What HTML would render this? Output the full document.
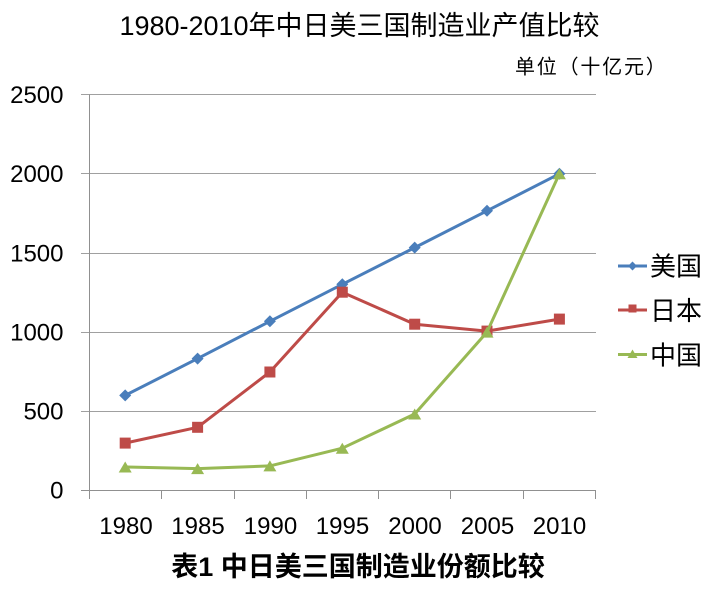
<!DOCTYPE html>
<html>
<head>
<meta charset="utf-8">
<style>
html,body{margin:0;padding:0;background:#fff;}
svg{display:block;}
text{font-family:"Liberation Sans","Noto Sans CJK SC",sans-serif;fill:#000;}
</style>
</head>
<body>
<svg width="720" height="598" viewBox="0 0 720 598" xmlns="http://www.w3.org/2000/svg">
  <rect width="720" height="598" fill="#fff"/>
  <!-- title -->
  <text x="359.5" y="35" font-size="27" text-anchor="middle">1980-2010年中日美三国制造业产值比较</text>
  <text x="515" y="73.5" font-size="20" letter-spacing="1.8">单位（十亿元）</text>

  <!-- gridlines -->
  <g stroke="#a0a0a0" stroke-width="1" shape-rendering="crispEdges">
    <line x1="81" y1="94.5" x2="596" y2="94.5"/>
    <line x1="81" y1="173.5" x2="596" y2="173.5"/>
    <line x1="81" y1="253.5" x2="596" y2="253.5"/>
    <line x1="81" y1="332.5" x2="596" y2="332.5"/>
    <line x1="81" y1="411.5" x2="596" y2="411.5"/>
  </g>
  <!-- axes -->
  <g stroke="#909090" stroke-width="1" shape-rendering="crispEdges">
    <line x1="89.5" y1="94.5" x2="89.5" y2="490.5"/>
    <line x1="81" y1="490.5" x2="596" y2="490.5"/>
    <line x1="89.5" y1="490.5" x2="89.5" y2="499"/>
    <line x1="161.5" y1="490.5" x2="161.5" y2="499"/>
    <line x1="234.5" y1="490.5" x2="234.5" y2="499"/>
    <line x1="306.5" y1="490.5" x2="306.5" y2="499"/>
    <line x1="378.5" y1="490.5" x2="378.5" y2="499"/>
    <line x1="450.5" y1="490.5" x2="450.5" y2="499"/>
    <line x1="523.5" y1="490.5" x2="523.5" y2="499"/>
    <line x1="595.5" y1="490.5" x2="595.5" y2="499"/>
  </g>

  <!-- y labels -->
  <g font-size="24" text-anchor="end">
    <text x="63.5" y="103">2500</text>
    <text x="63.5" y="182">2000</text>
    <text x="63.5" y="261.5">1500</text>
    <text x="63.5" y="340.5">1000</text>
    <text x="63.5" y="419.5">500</text>
    <text x="63.5" y="498.5">0</text>
  </g>
  <!-- x labels -->
  <g font-size="24" text-anchor="middle">
    <text x="126" y="534">1980</text>
    <text x="198" y="534">1985</text>
    <text x="270.5" y="534">1990</text>
    <text x="342.5" y="534">1995</text>
    <text x="415" y="534">2000</text>
    <text x="487.5" y="534">2005</text>
    <text x="559.5" y="534">2010</text>
  </g>

  <!-- USA -->
  <polyline fill="none" stroke="#4A7EBB" stroke-width="3" stroke-linejoin="round"
    points="125.2,395.4 197.6,358.6 269.9,321.3 342.3,284.3 414.7,247.6 487,210.8 559.4,173.8"/>
  <g fill="#4A7EBB">
    <polygon points="125.2,389.4 131.2,395.4 125.2,401.4 119.2,395.4"/>
    <polygon points="197.6,352.6 203.6,358.6 197.6,364.6 191.6,358.6"/>
    <polygon points="269.9,315.3 275.9,321.3 269.9,327.3 263.9,321.3"/>
    <polygon points="342.3,278.3 348.3,284.3 342.3,290.3 336.3,284.3"/>
    <polygon points="414.7,241.6 420.7,247.6 414.7,253.6 408.7,247.6"/>
    <polygon points="487,204.8 493,210.8 487,216.8 481,210.8"/>
    <polygon points="559.4,167.8 565.4,173.8 559.4,179.8 553.4,173.8"/>
  </g>

  <!-- Japan -->
  <polyline fill="none" stroke="#BE4B48" stroke-width="3" stroke-linejoin="round"
    points="125.2,443.1 197.6,427.3 269.9,372 342.3,292.2 414.7,324.2 487,331.1 559.4,319.1"/>
  <g fill="#BE4B48">
    <rect x="119.7" y="437.6" width="11" height="11"/>
    <rect x="192.1" y="421.8" width="11" height="11"/>
    <rect x="264.4" y="366.5" width="11" height="11"/>
    <rect x="336.8" y="286.7" width="11" height="11"/>
    <rect x="409.2" y="318.7" width="11" height="11"/>
    <rect x="481.5" y="325.6" width="11" height="11"/>
    <rect x="553.9" y="313.6" width="11" height="11"/>
  </g>

  <!-- China -->
  <polyline fill="none" stroke="#98B954" stroke-width="3" stroke-linejoin="round"
    points="125.2,467 197.6,468.6 269.9,465.9 342.3,448.2 414.7,414 487,332.1 559.4,173.8"/>
  <g fill="#98B954">
    <polygon points="125.2,461.5 131.7,472.5 118.7,472.5"/>
    <polygon points="197.6,463.1 204.1,474.1 191.1,474.1"/>
    <polygon points="269.9,460.4 276.4,471.4 263.4,471.4"/>
    <polygon points="342.3,442.7 348.8,453.7 335.8,453.7"/>
    <polygon points="414.7,408.5 421.2,419.5 408.2,419.5"/>
    <polygon points="487,326.6 493.5,337.6 480.5,337.6"/>
    <polygon points="559.4,168.3 565.9,179.3 552.9,179.3"/>
  </g>

  <!-- legend -->
  <line x1="618" y1="266" x2="647" y2="266" stroke="#4A7EBB" stroke-width="3"/>
  <polygon points="632.5,261.5 637,266 632.5,270.5 628,266" fill="#4A7EBB"/>
  <text x="650" y="275.5" font-size="26">美国</text>

  <line x1="618" y1="310" x2="647" y2="310" stroke="#BE4B48" stroke-width="3"/>
  <rect x="628.5" y="305.5" width="8" height="8" fill="#BE4B48" transform="translate(0,-1)"/>
  <text x="650" y="320" font-size="26">日本</text>

  <line x1="618" y1="354.5" x2="647" y2="354.5" stroke="#98B954" stroke-width="3"/>
  <polygon points="632.5,349.5 637.5,358 627.5,358" fill="#98B954"/>
  <text x="650" y="364.5" font-size="26">中国</text>

  <!-- caption -->
  <text x="358" y="576" font-size="27" font-weight="bold" text-anchor="middle">表1 中日美三国制造业份额比较</text>
</svg>
</body>
</html>
